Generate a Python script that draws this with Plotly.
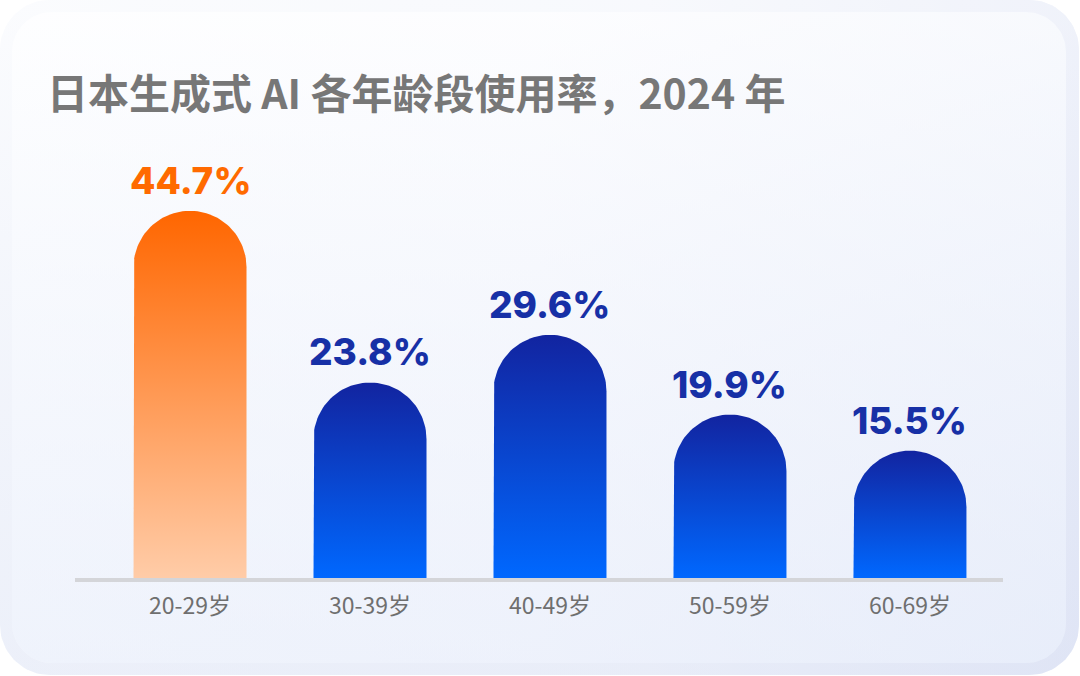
import numpy as np
import plotly.graph_objects as go

# chart data
age_groups = ['20-29岁', '30-39岁', '40-49岁', '50-59岁', '60-69岁']
usage_rate = [44.7, 23.8, 29.6, 19.9, 15.5]
highlight = [True, False, False, False, False]
title = '日本生成式 AI 各年龄段使用率，2024 年'

# canvas / plot area (px)
W, H = 1080, 676
left, right, top, bottom = 75, 1003, 150, 578
x_range = [-0.639, 4.517]
y_range = [0, 52.1]
bar_px = 113

ppx = (right - left) / (x_range[1] - x_range[0])
ppy = (bottom - top) / (y_range[1] - y_range[0])
hw = bar_px / 2 / ppx          # half bar width, x units
ry = bar_px / 2 / ppy          # cap radius, y units

orange_scale = [[0, '#ffcca8'], [1, '#ff6600']]
blue_scale = [[0, '#0068ff'], [1, '#1224a0']]


def rounded_rect(x0, y0, x1, y1, r, n=24):
    # pixel coords, y grows downward
    xs, ys = [], []
    corners = [(x1 - r, y0 + r, -np.pi / 2, 0),
               (x1 - r, y1 - r, 0, np.pi / 2),
               (x0 + r, y1 - r, np.pi / 2, np.pi),
               (x0 + r, y0 + r, np.pi, 1.5 * np.pi)]
    for cx, cy, a0, a1 in corners:
        t = np.linspace(a0, a1, n)
        xs += list(cx + r * np.cos(t))
        ys += list(cy + r * np.sin(t))
    xs.append(xs[0])
    ys.append(ys[0])
    return xs, ys


fig = go.Figure()

# card background (pixel axes x/y)
ox, oy = rounded_rect(0, 0, W - 1, H - 1, 50)
fig.add_trace(go.Scatter(x=ox, y=oy, mode='lines', fill='toself', line=dict(width=0),
                         fillgradient=dict(type='horizontal',
                                           colorscale=[[0, '#f7f9fd'], [0.6, '#f1f4fb'], [1, '#e1e6f6']]),
                         hoverinfo='skip', xaxis='x', yaxis='y'))
fig.add_trace(go.Scatter(x=ox, y=oy, mode='lines', fill='toself', line=dict(width=0),
                         fillgradient=dict(type='vertical', start=0, stop=H - 1,
                                           colorscale=[[0, 'rgba(255,255,255,0.5)'],
                                                       [1, 'rgba(220,226,244,0.4)']]),
                         hoverinfo='skip', xaxis='x', yaxis='y'))
ix, iy = rounded_rect(12, 12, W - 14, H - 13, 40)
fig.add_trace(go.Scatter(x=ix, y=iy, mode='lines', fill='toself', line=dict(width=0),
                         fillgradient=dict(type='horizontal',
                                           colorscale=[[0, '#fcfdff'], [0.5, '#f9fafe'], [1, '#edf1fb']]),
                         hoverinfo='skip', xaxis='x', yaxis='y'))
fig.add_trace(go.Scatter(x=ix, y=iy, mode='lines', fill='toself', line=dict(width=0),
                         fillgradient=dict(type='vertical', start=12, stop=H - 13,
                                           colorscale=[[0, 'rgba(255,255,255,0.6)'],
                                                       [1, 'rgba(226,233,249,0.5)']]),
                         hoverinfo='skip', xaxis='x', yaxis='y'))

# bars with round caps
for i, v in enumerate(usage_rate):
    t = np.linspace(np.pi, 0, 60)
    bx = [i - hw, i - hw] + list(i + hw * np.cos(t)) + [i + hw, i - hw]
    by = [0, v - ry] + list(v - ry + ry * np.sin(t)) + [0, 0]
    fig.add_trace(go.Scatter(x=bx, y=by, mode='lines', fill='toself', line=dict(width=0),
                             fillgradient=dict(type='vertical',
                                               colorscale=orange_scale if highlight[i] else blue_scale),
                             hoverinfo='skip', xaxis='x2', yaxis='y2'))
    fig.add_annotation(x=i, y=v, xref='x2', yref='y2', text=f'{v}%', showarrow=False,
                       yanchor='bottom', yshift=6,
                       font=dict(family='Inter', size=37, weight=800,
                                 color='#ff6a00' if highlight[i] else '#1730a6'))

fig.update_layout(
    width=W, height=H,
    margin=dict(l=0, r=0, t=0, b=0),
    paper_bgcolor='white',
    plot_bgcolor='rgba(0,0,0,0)',
    showlegend=False,
    title=dict(text=title, x=47 / W, xanchor='left', y=1 - 95 / H, yanchor='middle',
               font=dict(family='Noto Sans CJK SC', size=41, weight='bold', color='#777777')),
    xaxis=dict(domain=[0, 1], range=[0, W], visible=False, fixedrange=True),
    yaxis=dict(domain=[0, 1], range=[H, 0], visible=False, fixedrange=True),
    xaxis2=dict(domain=[left / W, right / W], range=x_range, anchor='y2',
                tickvals=list(range(len(age_groups))), ticktext=age_groups,
                showgrid=False, zeroline=False, showline=True,
                linecolor='#d4d5d9', linewidth=4, ticks='', ticklabelstandoff=4,
                automargin=False, fixedrange=True,
                tickfont=dict(family='Noto Sans CJK SC', size=23, color='#6f6f6f')),
    yaxis2=dict(domain=[(H - bottom) / H, (H - top) / H], range=y_range, anchor='x2',
                visible=False, fixedrange=True),
)

fig.write_html("out.html", config={'displayModeBar': False},
               post_script="document.body.style.margin='0';")
